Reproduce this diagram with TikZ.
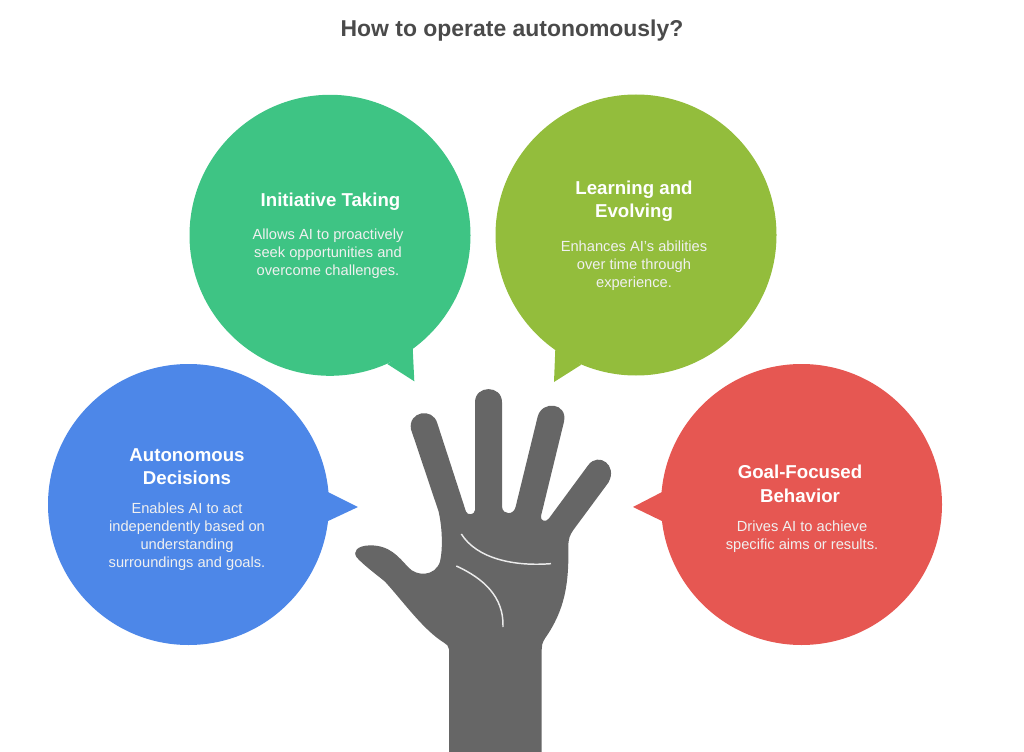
\documentclass[tikz,border=0pt]{standalone}
\usepackage{fontspec}
\setmainfont{Liberation Sans}
\definecolor{bluebub}{HTML}{4D87E8}
\definecolor{greenbub}{HTML}{3EC484}
\definecolor{olivebub}{HTML}{93BD3C}
\definecolor{redbub}{HTML}{E65752}
\definecolor{handgray}{HTML}{666666}
\definecolor{titlegray}{HTML}{4A4A4A}
\begin{document}
\begin{tikzpicture}[x=0.75pt,y=-0.75pt,
    bubble/.style={circle,inner sep=0pt,outer sep=0pt,minimum size=210.75pt},
    head/.style={text=white,align=center,inner sep=0pt,font=\fontsize{14pt}{17.6pt}\selectfont\bfseries},
    body/.style={text=white!94!black,align=center,inner sep=0pt,font=\fontsize{11pt}{13.4pt}\selectfont}]
    \useasboundingbox (0, 0) rectangle (1024, 752);
    \node[text=titlegray,inner sep=0pt,font=\fontsize{17.2pt}{20pt}\selectfont\bfseries] (title) at (512, 31) {How to operate autonomously?};
    % bubbles and their tails
    \node[bubble,fill=greenbub] (initiative) at (330, 235.3) {};
    \node[bubble,fill=olivebub] (learning) at (636, 235) {};
    \node[bubble,fill=bluebub] (decisions) at (188.5, 504.5) {};
    \node[bubble,fill=redbub] (goal) at (801.5, 504.5) {};
    \fill[greenbub] (412.7, 348.3) -- (414.3, 381.3) -- (387.3, 364) -- cycle;
    \fill[olivebub] (555.3, 349.3) -- (554, 382) -- (581.3, 364.7) -- cycle;
    \fill[bluebub] (326, 491) -- (358, 507) -- (326, 522) -- cycle;
    \fill[redbub] (664, 491) -- (633, 507) -- (664, 522) -- cycle;
    % texts
    \node[head] (h1) at (330.5, 201.5) {Initiative Taking};
    \node[body] (b1) at (328, 254) {Allows AI to proactively\\seek opportunities and\\overcome challenges.};
    \node[head] (h2) at (634, 201) {Learning and\\Evolving};
    \node[body] (b2) at (634, 266) {Enhances AI's abilities\\over time through\\experience.};
    \node[head] (h3) at (187, 466.5) {Autonomous\\Decisions};
    \node[body] (b3) at (187, 537) {Enables AI to act\\independently based on\\understanding\\surroundings and goals.};
    \node[head] (h4) at (800, 484) {Goal-Focused\\Behavior};
    \node[body] (b4) at (802, 537) {Drives AI to achieve\\specific aims or results.};
    % hand
    \begin{scope}[shift={(340, 370)},x=0.25pt,y=-0.25pt]
        \fill[handgray] (327, 1146) -- (327, 838) .. controls (327, 828) and (320, 824) .. (312, 818)
            .. controls (250, 780) and (190, 695) .. (135, 635)
            .. controls (115, 618) and (70, 585) .. (50, 562)
            .. controls (38, 545) and (50, 527) .. (90, 526)
            .. controls (150, 526) and (175, 560) .. (205, 592)
            .. controls (230, 620) and (285, 620) .. (300, 575)
            .. controls (308, 540) and (308, 480) .. (296, 425)
            -- (213, 178) .. controls (203, 125) and (278, 110) .. (292, 160)
            -- (378, 425) .. controls (382, 436) and (404, 436) .. (405, 420)
            -- (405, 97) .. controls (405, 44) and (486, 44) .. (486, 97)
            -- (486, 410) .. controls (488, 436) and (522, 436) .. (527, 410)
            -- (593, 140) .. controls (606, 90) and (684, 98) .. (672, 155)
            -- (603, 438) .. controls (600, 453) and (618, 458) .. (627, 445)
            -- (745, 285) .. controls (775, 245) and (835, 285) .. (805, 338)
            -- (700, 480) .. controls (690, 495) and (685, 505) .. (685, 530)
            .. controls (687, 640) and (675, 720) .. (615, 805)
            .. controls (606, 820) and (605, 828) .. (605, 840)
            -- (605, 1146) -- cycle;
        \draw[white!92!black,line width=1.1pt] (364, 492) .. controls (410, 565) and (520, 590) .. (633, 581);
        \draw[white!92!black,line width=1.1pt] (349, 588) .. controls (430, 625) and (492, 680) .. (489, 771);
    \end{scope}
\end{tikzpicture}
\end{document}
